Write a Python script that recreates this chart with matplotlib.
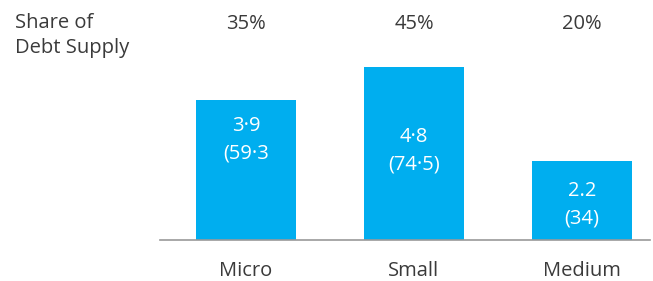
import matplotlib.pyplot as plt

plt.rcParams['font.family'] = ['Open Sans', 'DejaVu Sans']

categories = ['Micro', 'Small', 'Medium']
values = [3.9, 4.8, 2.2]
shares = ['35%', '45%', '20%']
bar_labels = ['3·9\n(59·3', '4·8\n(74·5)', '2.2\n(34)']
# where the white labels sit (data units below bar top)
label_drop = [1.125, 2.32, 1.22]

blue = '#00AEEF'
text_col = '#3a3a3a'
fs = 14.5

fig = plt.figure(figsize=(6.53, 2.81), dpi=100)
ax = fig.add_axes([160 / 653, 41 / 281, 490 / 653, 200 / 281])

x = range(len(categories))
ax.bar(x, values, width=0.595, color=blue, zorder=2)

for i, v in enumerate(values):
    ax.text(i, v - label_drop[i], bar_labels[i], color='white', fontsize=fs,
            ha='center', va='center', linespacing=1.5)
    ax.text(i, 1.08, shares[i], transform=ax.get_xaxis_transform(),
            color=text_col, fontsize=fs, ha='center', va='center')

ax.set_xlim(-0.512, 2.405)
ax.set_ylim(0, 200 / 36)
ax.set_xticks(list(x))
ax.set_xticklabels(categories, fontsize=fs, color=text_col)
ax.tick_params(axis='x', length=0, pad=15)
ax.set_yticks([])
for s in ['top', 'right', 'left']:
    ax.spines[s].set_visible(False)
ax.spines['bottom'].set_color('#999999')
ax.spines['bottom'].set_linewidth(1.2)

fig.text(15 / 653, 1 - 13 / 281, 'Share of\nDebt Supply', fontsize=fs,
         color=text_col, ha='left', va='top', linespacing=1.3)

fig.savefig('out.png', dpi=100)
